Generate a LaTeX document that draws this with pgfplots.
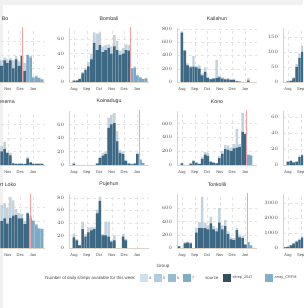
\documentclass[border=0pt]{standalone}
\usepackage{fontspec}
\setmainfont{Liberation Sans}
\usepackage{pgfplots}
\pgfplotsset{compat=1.18}
\definecolor{palec}{HTML}{C3D2DC}
\definecolor{darkc}{HTML}{3D6985}
\definecolor{lbc}{HTML}{7AAAC6}
\definecolor{axc}{HTML}{DCD3C8}
\definecolor{gridc}{HTML}{E4E4E4}
\definecolor{redc}{HTML}{F2A0A0}
\definecolor{labc}{HTML}{4A4A4A}
\definecolor{framec}{HTML}{F1F1F1}
\definecolor{lg1}{HTML}{CFE0EA}
\definecolor{lg2}{HTML}{B0CDDD}
\definecolor{lg3}{HTML}{97BCD2}
\definecolor{lg4}{HTML}{7FACC7}
\definecolor{srcA}{HTML}{33505F}
\definecolor{srcB}{HTML}{7FAFCB}
\pgfplotsset{
 panel/.style={scale only axis, width=80pt, height=54pt, xmin=-12, xmax=182, ymin=0,
   axis x line*=bottom, axis y line*=left, axis line style={draw=axc, line width=0.7pt, -},
   xtick={0,31,61,92,122,153}, xticklabels={Aug,Sep,Oct,Nov,Dec,Jan},
   xmajorgrids, ymajorgrids, grid style={gridc, dashed, line width=0.3pt},
   major tick length=0pt, scaled y ticks=false,
   tick label style={font=\fontsize{4}{4.5}\selectfont, text=labc},
   yticklabel style={xshift=-1.5pt, /pgf/number format/1000 sep={}},
   xticklabel style={yshift=-2.2pt},
   title style={font=\fontsize{5.2}{6}\selectfont, text=black!80, yshift=-2.5pt},
   anchor=south west},
 pale/.style={ybar, bar width=6, bar shift=0pt, fill=palec, draw=none},
 dk/.style={ybar, bar width=6, bar shift=0pt, fill=darkc, draw=none},
 lb/.style={ybar, bar width=6, bar shift=0pt, fill=lbc, draw=none},
 rl/.style={redc, line width=1.1pt},
}
\begin{document}
\begin{tikzpicture}
\useasboundingbox (0pt,0pt) rectangle (303pt,308pt);
\clip (0pt,0pt) rectangle (303pt,308pt);
\fill[white] (0pt,0pt) rectangle (303pt,308pt);
\fill[framec] (0pt,303pt) rectangle (303pt,308pt);
\fill[framec] (0pt,0pt) rectangle (3pt,308pt);

% ---------- Row 1 ----------
\begin{axis}[panel, at={(-35pt,226pt)}, title={Bo}, ymax=100, ytick={0,25,50,75}]
\addplot[pale] coordinates {(56,35)(63,40)(70,45)(77,40)(84,45)(91,42)(98,44)(105,40)(112,48)(119,38)(126,50)(133,35)(140,50)(147,48)(154,10)(161,12)(168,8)(175,5)};
\addplot[dk] coordinates {(56,30)(63,35)(70,40)(77,30)(84,40)(91,35)(98,40)(105,25)(112,42)(119,30)(126,48)(133,20)};
\addplot[lb] coordinates {(140,50)(147,45)(154,8)(161,10)(168,7)(175,5)};
\addplot[rl] coordinates {(128,0)(128,200)};
\end{axis}

\begin{axis}[panel, at={(69pt,226pt)}, title={Bombali}, ymax=76, ytick={0,20,40,60}]
\addplot[pale] coordinates {(0,2)(7,3)(14,5)(21,14)(28,20)(35,28)(42,40)(49,70)(56,68)(63,70)(70,50)(77,52)(84,53)(91,50)(98,66)(105,58)(112,44)(119,48)(126,53)(133,52)(140,19)(147,22)(154,10)(161,7)(168,4)(175,5)};
\addplot[dk] coordinates {(0,2)(7,2)(14,4)(21,12)(28,17)(35,22)(42,32)(49,55)(56,45)(63,52)(70,42)(77,45)(84,48)(91,40)(98,50)(105,45)(112,38)(119,40)(126,45)(133,44)};
\addplot[lb] coordinates {(140,19)(147,20)(154,9)(161,6)(168,4)(175,5)};
\addplot[rl] coordinates {(137,0)(137,200)};
\end{axis}

\begin{axis}[panel, at={(177pt,226pt)}, title={Kailahun}, ymax=810, ytick={0,200,400,600,800}]
\addplot[pale] coordinates {(0,760)(7,480)(14,280)(21,240)(28,390)(35,240)(42,250)(49,130)(56,220)(63,80)(70,50)(77,60)(84,330)(91,90)(98,70)(105,50)(112,60)(119,40)(126,50)(133,20)(140,10)(147,5)(161,60)};
\addplot[dk] coordinates {(0,740)(7,470)(14,250)(21,220)(28,230)(35,220)(42,200)(49,100)(56,150)(63,60)(70,40)(77,50)(84,60)(91,70)(98,50)(105,40)(112,40)(119,30)(126,30)(133,10)(140,5)(161,20)};
\end{axis}

\begin{axis}[panel, at={(283pt,226pt)}, title={Kambia}, ymax=180, ytick={0,50,100,150}]
\addplot[pale] coordinates {(0,2)(7,5)(14,15)(21,60)(28,95)(35,120)(42,100)(49,80)(56,60)};
\addplot[dk] coordinates {(0,2)(7,4)(14,12)(21,50)(28,80)(35,100)(42,85)(49,65)(56,50)};
\end{axis}

% ---------- Row 2 ----------
\begin{axis}[panel, at={(-35pt,143pt)}, title={Kenema}, ymax=100, ytick={0,25,50,75}]
\addplot[pale] coordinates {(77,35)(84,43)(91,24)(98,22)(105,4)(112,3)(119,3)(126,3)(133,2)(140,15)(147,6)(154,3)(161,3)(168,3)(175,3)};
\addplot[dk] coordinates {(77,25)(84,30)(91,22)(98,18)(105,3)(112,2)(119,2)(126,2)(133,2)(140,12)(147,5)(154,2)(161,2)(168,2)(175,2)};
\end{axis}

\begin{axis}[panel, at={(69pt,143pt)}, title={Koinadugu}, ymax=80, ytick={0,20,40,60}]
\addplot[pale] coordinates {(0,2)(56,3)(63,12)(70,18)(77,20)(84,70)(91,74)(98,77)(105,50)(112,22)(119,20)(126,8)(133,3)(140,2)(147,3)(154,18)(161,8)(168,3)};
\addplot[dk] coordinates {(0,2)(56,2)(63,10)(70,14)(77,16)(84,55)(91,60)(98,62)(105,35)(112,18)(119,16)(126,6)(133,2)(140,1)(147,2)(154,16)};
\addplot[lb] coordinates {(161,8)(168,3)};
\addplot[rl] coordinates {(158,0)(158,200)};
\end{axis}

\begin{axis}[panel, at={(177pt,143pt)}, title={Kono}, ymax=780, ytick={0,200,400,600}]
\addplot[pale] coordinates {(0,30)(21,25)(28,70)(35,40)(42,20)(49,120)(56,190)(63,170)(70,60)(77,40)(84,30)(91,130)(98,200)(105,290)(112,280)(119,250)(126,300)(133,520)(140,300)(147,750)(154,450)};
\addplot[dk] coordinates {(0,25)(21,20)(28,55)(35,30)(42,15)(49,90)(56,150)(63,130)(70,45)(77,30)(84,25)(91,100)(98,160)(105,230)(112,220)(119,200)(126,240)(133,250)(140,260)(147,480)(154,450)};
\addplot[lb] coordinates {(161,150)(168,140)};
\addplot[rl] coordinates {(157,0)(157,2000)};
\end{axis}

\begin{axis}[panel, at={(283pt,143pt)}, title={Moyamba}, ymax=68, ytick={0,20,40,60}]
\addplot[pale] coordinates {(0,5)(7,6)(14,4)(21,5)(28,12)(35,14)(42,10)};
\addplot[dk] coordinates {(0,4)(7,5)(14,3)(21,4)(28,10)(35,12)(42,8)};
\end{axis}

% ---------- Row 3 ----------
\begin{axis}[panel, at={(-35pt,60pt)}, title={Port Loko}, ymax=100, ytick={0,25,50,75}]
\addplot[pale] coordinates {(77,80)(84,83)(91,75)(98,94)(105,88)(112,72)(119,65)(126,63)(133,50)(140,66)(147,60)(154,52)(161,44)(168,37)(175,36)};
\addplot[dk] coordinates {(77,50)(84,55)(91,45)(98,56)(105,60)(112,61)(119,55)(126,55)(133,44)(140,64)};
\addplot[lb] coordinates {(147,55)(154,50)(161,42)(168,36)(175,35)};
\addplot[rl] coordinates {(146,0)(146,200)};
\end{axis}

\begin{axis}[panel, at={(69pt,60pt)}, title={Pujehun}, ymax=86, ytick={0,20,40,60,80}]
\addplot[pale] coordinates {(0,22)(7,14)(14,5)(21,42)(28,22)(35,33)(42,33)(49,33)(56,61)(63,82)(70,22)(77,42)(84,42)(91,12)(98,20)(119,22)(126,14)};
\addplot[dk] coordinates {(0,17)(7,12)(14,4)(21,30)(28,18)(35,25)(42,28)(49,30)(56,55)(63,75)(70,20)(77,20)(84,18)(91,10)(98,12)(119,18)(126,12)};
\end{axis}

\begin{axis}[panel, at={(177pt,60pt)}, title={Tonkolili}, ymax=812, ytick={0,200,400,600}]
\addplot[pale] coordinates {(-7,30)(7,90)(14,95)(21,85)(35,300)(42,390)(49,770)(56,380)(63,340)(70,470)(77,330)(84,300)(91,600)(98,340)(105,420)(112,250)(119,160)(126,150)(133,300)(140,200)(147,180)(154,60)};
\addplot[dk] coordinates {(-7,25)(7,70)(14,80)(21,70)(35,230)(42,300)(49,300)(56,300)(63,280)(70,370)(77,280)(84,250)(91,380)(98,280)(105,330)(112,210)(119,130)(126,120)(133,270)(140,160)(147,150)(154,50)};
\addplot[lb] coordinates {(161,90)(168,40)};
\addplot[rl] coordinates {(158,0)(158,2000)};
\end{axis}

\begin{axis}[panel, at={(283pt,60pt)}, title={Western Area}, ymax=3600, ytick={0,1000,2000,3000}]
\addplot[pale] coordinates {(-7,50)(0,100)(7,200)(14,350)(21,500)(28,650)(35,800)(42,900)};
\addplot[dk] coordinates {(-7,40)(0,80)(7,170)(14,300)(21,420)(28,550)(35,700)(42,800)};
\end{axis}

% ---------- legend ----------
\node[font=\fontsize{4.6}{5}\selectfont, text=labc] at (163pt,42pt) {Group};
\node[anchor=east, font=\fontsize{4.4}{5}\selectfont, text=labc] at (138.5pt,30pt) {Number of daily sitreps available for this week};
\fill[lg1] (140pt,26pt) rectangle (148pt,34pt);
\node[anchor=west, font=\fontsize{3.6}{4}\selectfont, text=labc, inner sep=0.5pt] at (148.5pt,30pt) {4};
\fill[lg2] (154pt,26pt) rectangle (162pt,34pt);
\node[anchor=west, font=\fontsize{3.6}{4}\selectfont, text=labc, inner sep=0.5pt] at (162.5pt,30pt) {5};
\fill[lg3] (168pt,26pt) rectangle (176pt,34pt);
\node[anchor=west, font=\fontsize{3.6}{4}\selectfont, text=labc, inner sep=0.5pt] at (176.5pt,30pt) {6};
\fill[lg4] (183pt,26pt) rectangle (191pt,34pt);
\node[anchor=west, font=\fontsize{3.6}{4}\selectfont, text=labc, inner sep=0.5pt] at (191.5pt,30pt) {7};
\node[anchor=east, font=\fontsize{4.4}{5}\selectfont, text=labc] at (222pt,30pt) {source};
\fill[srcA] (223pt,26pt) rectangle (231pt,34pt);
\node[anchor=west, font=\fontsize{3.8}{4}\selectfont, text=labc, inner sep=0.5pt] at (232pt,30pt) {sitrep\_2047};
\fill[srcB] (265pt,26pt) rectangle (273pt,34pt);
\node[anchor=west, font=\fontsize{3.8}{4}\selectfont, text=labc, inner sep=0.5pt] at (274pt,30pt) {array\_CRFM};
\end{tikzpicture}
\end{document}
